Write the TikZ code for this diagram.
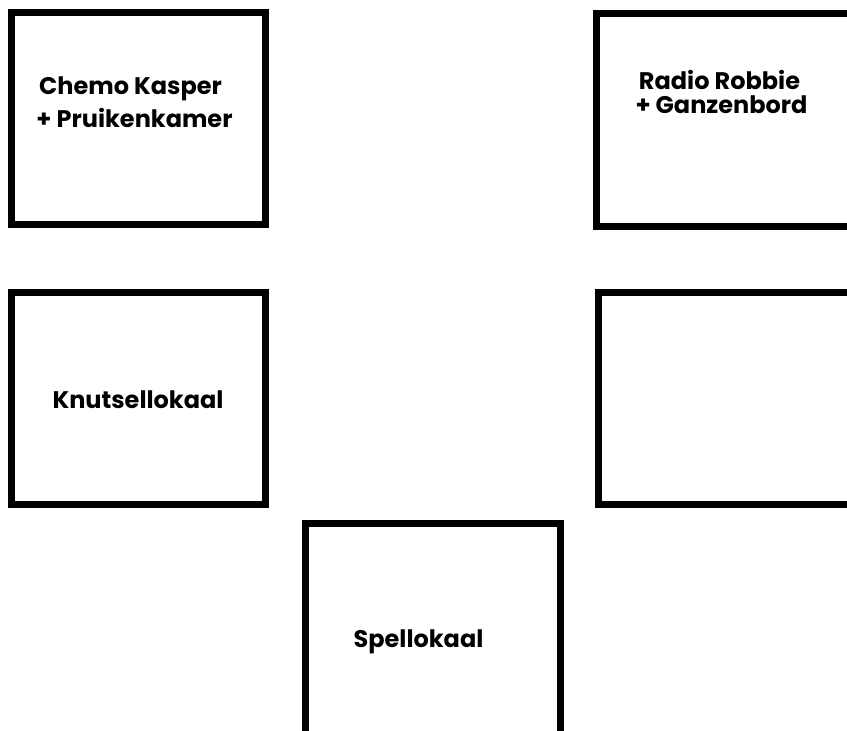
\documentclass[tikz,border=0pt]{standalone}
\usepackage{fontspec}
\setmainfont{Poppins}
\begin{document}
\begin{tikzpicture}[x=1pt,y=-1pt,
  room/.style={draw=black,line width=7pt,inner sep=0pt},
  lbl/.style={anchor=base,inner sep=0pt,font=\fontsize{24}{28}\selectfont\bfseries}]
\useasboundingbox (0,0) rectangle (847,731);
\clip (0,0) rectangle (847,731);
\fill[white] (0,0) rectangle (847,731);
\node[room,minimum width=254.5pt,minimum height=212pt] (b1) at (138.25,118) {};
\node[room,minimum width=264pt,minimum height=212.5pt] (b2) at (728,119.75) {};
\node[room,minimum width=254.5pt,minimum height=212pt] (b3) at (138.25,398) {};
\node[room,minimum width=262pt,minimum height=212pt] (b4) at (729,398) {};
\node[room,minimum width=255pt,minimum height=222pt] (b5) at (433,634) {};
\node[lbl] (t1a) at (130.5,94) {Chemo Kasper};
\node[lbl] (t1b) at (134.5,127) {+ Pruikenkamer};
\node[lbl] (t2a) at (719.5,89) {Radio Robbie};
\node[lbl] (t2b) at (721.5,113) {+ Ganzenbord};
\node[lbl] (t3) at (138,408) {Knutsellokaal};
\node[lbl] (t5) at (418.5,647) {Spellokaal};
\end{tikzpicture}
\end{document}
